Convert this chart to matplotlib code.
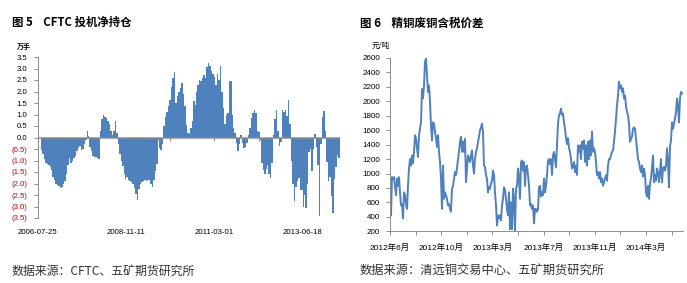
import numpy as np
import matplotlib
matplotlib.use("Agg")
import matplotlib.pyplot as plt


# ---- fig 5: CFTC net speculative position (10k lots), bi-weekly samples ----
cftc_net = [
    -0.55, -0.7, -0.95, -1.1, -1.15, -1.2, -1.3, -1.4, -1.7, -1.85,
    -2.0, -2.05, -2.1, -2.2, -2.15, -2.0, -1.9, -1.6, -1.2, -0.9,
    -1.1, -1.0, -0.9, -0.8, -0.6, -0.45, -0.35, -0.55, -0.5, -0.3,
    -0.1, 0.3, 0.05, -0.4, -0.6, -0.8, -0.85, -0.85, -0.9, -0.95,
    0.3, 0.8, 1.0, 0.9, 0.85, 0.7, 0.6, 0.3, 0.1, 0.3,
    0.7, 0.2, -0.3, -0.7, -1.0, -1.25, -1.6, -1.8, -1.7, -1.85,
    -1.9, -1.95, -2.0, -2.2, -2.45, -2.7, -2.25, -2.0, -1.95, -1.9,
    -1.85, -1.9, -1.85, -1.85, -2.0, -2.15, -1.85, -1.45, -1.15, -0.1,
    -0.45, -0.55, -0.3, 0.5, 0.9, 1.1, 1.35, 1.65, 2.2, 2.6,
    2.85, 1.5, 1.8, 2.0, 2.15, 2.35, 1.9, 1.35, 0.55, 0.2,
    0.15, 0.4, 0.7, 1.6, 1.4, 2.0, 2.3, 2.5, 2.45, 2.6,
    2.7, 2.6, 3.05, 3.25, 3.1, 2.9, 2.75, 2.65, 2.3, 2.75,
    2.5, 3.1, 2.0, 1.3, 0.6, 1.0, 1.05, 2.45, 2.45, 1.0,
    0.4, 0.2, -0.25, -0.6, -0.3, 0.1, -0.25, -0.45, -0.4, -0.25,
    0.1, 0.4, 0.85, 1.05, 1.2, 1.05, 0.3, 0.25, -0.1, -1.1,
    -1.4, -1.6, -1.35, -1.2, -1.6, -1.75, -1.1, 0.1, 0.8, 1.2,
    0.3, -0.35, -0.2, 1.2, 1.1, 1.2, 0.95, 1.65, 0.6, -1.0,
    -2.0, -2.75, -2.15, -1.9, -1.75, -2.3, -2.3, -3.0, -2.5, -3.05,
    -2.0, -0.65, -0.5, -1.45, -0.5, 0.15, -0.4, -1.2, -3.4, -0.3,
    0.9, 1.15, 0.3, -1.05, -1.9, -1.7, -2.55, -3.3, -1.8, -1.3,
    -0.75, -0.9,
]
cftc_labels = ["2006-07-25", "2008-11-11", "2011-03-01", "2013-06-18"]
cftc_yticks = [3.5, 3.0, 2.5, 2.0, 1.5, 1.0, 0.5, 0.0,
               -0.5, -1.0, -1.5, -2.0, -2.5, -3.0, -3.5]

# ---- fig 6: refined vs scrap copper spread (yuan/t) ----
spread = [
    810, 420, 950, 930, 950, 830, 700, 930, 830, 950,
    740, 560, 580, 380, 740, 700, 580, 510, 830, 1070,
    1200, 1110, 1250, 1140, 1300, 1530, 1490, 1350, 1230, 1530,
    1620, 1710, 2170, 2040, 2220, 2550, 2590, 2360, 2130, 2220,
    1990, 1670, 1460, 1710, 1690, 1580, 1490, 1370, 1530, 1300,
    1160, 930, 510, 1110, 650, 740, 700, 650, 560, 580,
    510, 470, 790, 830, 930, 1020, 980, 1070, 1200, 1300,
    1440, 1510, 1300, 1440, 1300, 1480, 880, 1070, 1250, 1200,
    1160, 1250, 1320, 1110, 1000, 1200, 1300, 1350, 1440, 1510,
    1600, 1640, 1690, 1580,
    1110, 1090, 980, 930, 740, 810, 790, 860, 900, 1040,
    980, 740, 560, 280, 420, 380, 420, 350, 560, 650,
    810, 770, 650, 510, 420, 740, 230, 600, 230, 790,
    650, 200, 790, 830, 1070, 930, 650, 1160, 1180, 1040,
    1160, 830, 1090, 1110, 980, 830, 560, 580, 510, 560,
    310, 510, 510, 470, 510, 810, 830, 680, 740, 700,
    930, 740, 830, 980, 1180, 1200, 1130, 1200, 980, 1250,
    1300, 1200, 1090, 1390, 1690, 1810, 1830, 1900, 1810, 1830,
    1710, 1620, 1490, 1410, 1490, 1350, 1300, 1200, 1070, 1090,
    1160, 1020, 1110, 980, 1390, 1300, 1390, 1200, 1440,
    1345, 1460, 1160, 1390, 1110, 1440, 1200, 1460, 1250, 1580,
    1300, 1350, 1300, 1160, 980, 1020, 930, 1020, 880, 930,
    830, 880, 930, 980, 900, 1110, 1200, 1200, 1250, 1300,
    1320, 1440, 1580, 1760, 1940, 2080, 2270, 2180, 2220, 2130,
    2180, 2040, 2080, 1940, 1850, 1810, 1690, 1440, 1480, 1510,
    1620, 1640, 1620, 1480, 1350, 1200, 1160, 1070, 1020, 1110,
    960, 1070, 980, 740, 680, 830, 650, 860, 930, 1090,
    1250, 880, 980, 900, 1070, 1020, 880, 1020, 1200, 880,
    1070, 1090, 1040, 1110, 1350, 1160, 810, 1370, 1460, 1710,
    1620, 1690, 1760, 1850, 2040, 1940, 1710, 2040, 2130, 2110,
]
spread_labels = ["2012年6月", "2012年10月", "2013年3月", "2013年7月", "2013年11月", "2014年3月"]
spread_yticks = [200, 400, 600, 800, 1000, 1200, 1400, 1600, 1800, 2000, 2200, 2400, 2600]

BLUE = "#4F81BD"
AXIS_GRAY = "#8C8C8C"
RED = "#C00000"
CJK = ["Noto Sans CJK SC", "DejaVu Sans"]
NUM = ["Liberation Sans Narrow", "Liberation Sans", "Noto Sans CJK SC"]

W, H = 687, 283


def fig_rect(x0, y0, x1, y1):
    # pixel box (top-left origin) -> figure fraction rect
    return [x0 / W, 1 - y1 / H, (x1 - x0) / W, (y1 - y0) / H]


def main():
    plt.rcParams.update({
        "font.family": NUM,
        "axes.linewidth": 0.7,
        "xtick.color": AXIS_GRAY,
        "ytick.color": AXIS_GRAY,
    })

    fig = plt.figure(figsize=(W / 100, H / 100), dpi=100)
    fig.patch.set_facecolor("white")

    # ---------------- left: CFTC ----------------
    ax = fig.add_axes(fig_rect(37.7, 57, 339.5, 218))
    x = np.arange(len(cftc_net))
    ax.bar(x, cftc_net, width=1.0, color=BLUE, linewidth=0, zorder=2)
    ax.axhline(0, color=AXIS_GRAY, lw=1.1, zorder=3)
    ax.set_xlim(-0.5, len(cftc_net) - 0.5)
    ax.set_ylim(-3.5, 3.5)

    for s in ["top", "right"]:
        ax.spines[s].set_visible(False)
    ax.spines["left"].set_color(AXIS_GRAY)
    ax.spines["bottom"].set_position(("data", 0))
    ax.spines["bottom"].set_visible(False)

    ax.set_yticks(cftc_yticks)
    ylabels = [f"{v:.1f}" if v >= 0 else f"({abs(v):.1f})" for v in cftc_yticks]
    ax.set_yticklabels(ylabels, fontsize=5.6)
    for lab, v in zip(ax.get_yticklabels(), cftc_yticks):
        lab.set_color(RED if v < 0 else "black")
    ax.tick_params(axis="y", direction="out", length=3, width=0.7, pad=4.5)

    # category ticks on the zero line, labels every other tick at the bottom
    xt = -2.5 + 29.85 * np.arange(7)
    ax.set_xticks(xt)
    ax.set_xticklabels([])
    ax.tick_params(axis="x", direction="out", length=2, width=0.7)
    for pos, lab in zip(xt[::2], cftc_labels):
        ax.text(pos, -0.087, lab, transform=ax.get_xaxis_transform(),
                ha="center", va="center", fontsize=5.6, color="black")

    fig.text(12 / W, 1 - 22 / H, "图 5    CFTC 投机净持仓", family=CJK,
             fontsize=8.2, fontweight="bold", va="center", ha="left")
    fig.text(17 / W, 1 - 46 / H, "万手", family=CJK, fontsize=5,
             fontweight="bold", va="center", ha="left")
    fig.text(12 / W, 1 - 271 / H, "数据来源：CFTC、五矿期货研究所", family=CJK,
             fontsize=8.6, color="#333333", va="center", ha="left")

    # ---------------- right: spread ----------------
    ax2 = fig.add_axes(fig_rect(390, 58, 683, 231.3))
    xs = np.arange(len(spread))
    ax2.plot(xs, spread, color=BLUE, lw=1.4, solid_joinstyle="round")
    ax2.set_xlim(0, len(spread))
    ax2.set_ylim(200, 2600)

    for s in ["top", "right"]:
        ax2.spines[s].set_visible(False)
    ax2.spines["left"].set_color(AXIS_GRAY)
    ax2.spines["bottom"].set_color(AXIS_GRAY)

    ax2.set_yticks(spread_yticks)
    ax2.set_yticklabels([str(v) for v in spread_yticks], fontsize=5.8, color="black")
    ax2.tick_params(axis="y", direction="out", length=3, width=0.7, pad=4.3)

    step = 25.6
    ticks = np.arange(0, len(spread), step)
    ax2.set_xticks(ticks)
    xl = []
    for k in range(len(ticks)):
        xl.append(spread_labels[k // 2] if k % 2 == 0 and k // 2 < len(spread_labels) else "")
    ax2.set_xticklabels(xl, fontsize=6, color="black", family=NUM)
    ax2.tick_params(axis="x", direction="out", length=3, width=0.7, pad=6)

    fig.text(360 / W, 1 - 23 / H, "图 6    精铜废铜含税价差", family=CJK,
             fontsize=8.3, fontweight="bold", va="center", ha="left")
    fig.text(372 / W, 1 - 46 / H, "元/吨", family=CJK, fontsize=5.5,
             va="center", ha="left")
    fig.text(360 / W, 1 - 270 / H, "数据来源：清远铜交易中心、五矿期货研究所", family=CJK,
             fontsize=8.8, color="#333333", va="center", ha="left")

    fig.savefig("out.png", dpi=100, facecolor="white")
    plt.close(fig)


if __name__ == "__main__":
    main()
